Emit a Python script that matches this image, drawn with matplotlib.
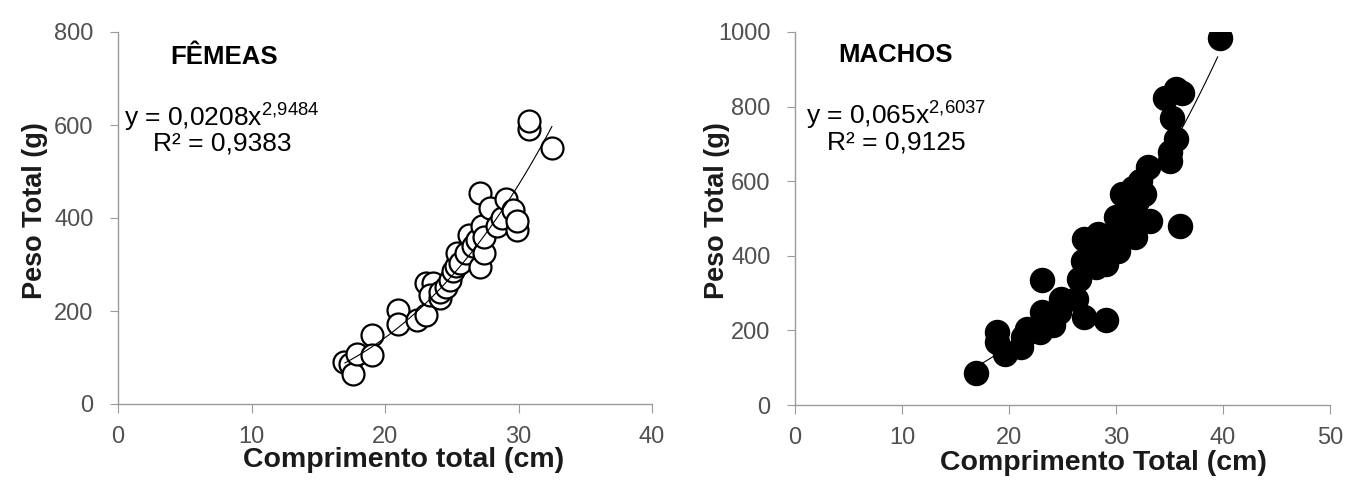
import numpy as np
import matplotlib.pyplot as plt

plt.rcParams['font.family'] = ['Liberation Sans', 'DejaVu Sans']
plt.rcParams['mathtext.fontset'] = 'custom'
plt.rcParams['mathtext.rm'] = 'Liberation Sans'

# Fêmeas: comprimento total (cm) x peso total (g)
femeas_ct = [16.9, 17.4, 17.6, 17.9, 19.0, 19.0, 21.0, 21.0, 22.4, 23.1, 23.1, 23.6,
             23.4, 24.1, 24.1, 24.6, 24.9, 25.1, 25.3, 25.4, 25.6, 26.1, 26.3, 26.6,
             26.9, 27.1, 27.1, 27.3, 27.4, 27.4, 27.9, 28.4, 28.8, 29.1, 29.6, 29.9,
             29.9, 30.8, 30.8, 32.5]
femeas_pt = [90, 86, 65, 108, 148, 105, 202, 173, 180, 191, 260, 260,
             234, 227, 241, 252, 267, 285, 296, 324, 303, 324, 364, 339,
             353, 454, 295, 382, 324, 360, 422, 382, 400, 440, 418, 375,
             393, 591, 609, 551]

# Machos
machos_ct = [16.9, 18.9, 18.9, 19.6, 21.1, 21.3, 21.7, 22.9, 23.1, 23.1, 23.7, 24.1,
             24.7, 24.9, 26.3, 27.0, 26.5, 26.9, 27.0, 27.7, 28.1, 28.3, 28.7, 29.1,
             29.1, 29.4, 30.0, 30.0, 30.2, 30.4, 30.6, 31.0, 31.2, 31.6, 31.8, 32.0,
             32.2, 32.4, 32.6, 33.0, 33.2, 35.0, 35.0, 35.2, 34.6, 35.6, 36.2, 35.6,
             36.0, 39.7]
machos_pt = [85, 196, 169, 138, 156, 183, 205, 196, 249, 334, 227, 214,
             249, 285, 285, 236, 338, 387, 445, 405, 370, 458, 423, 227,
             378, 405, 441, 503, 414, 476, 565, 521, 459, 583, 450, 547,
             601, 494, 565, 637, 494, 654, 677, 770, 824, 846, 837, 712,
             481, 984]

# ajuste potencial
fem_a, fem_b = 0.0208, 2.9484
mac_a, mac_b = 0.065, 2.6037

fig = plt.figure(figsize=(13.7, 4.84), dpi=100)
ax1 = fig.add_axes([118/1370, 1 - 404/484, 534/1370, 372/484])
ax2 = fig.add_axes([795/1370, 1 - 405/484, 535/1370, 373/484])

def estilo(ax, xmax, ymax, ystep, xlabel, xlx, xly, ylx):
    ax.set_xlim(0, xmax)
    ax.set_ylim(0, ymax)
    ax.set_xticks(np.arange(0, xmax + 1, 10))
    ax.set_yticks(np.arange(0, ymax + 1, ystep))
    for s in ['top', 'right']:
        ax.spines[s].set_visible(False)
    for s in ['left', 'bottom']:
        ax.spines[s].set_color('#9a9a9a')
        ax.spines[s].set_linewidth(1.0)
    ax.tick_params(direction='out', color='#9a9a9a', labelsize=17,
                   labelcolor='#505050')
    ax.tick_params(axis='x', length=6.5, pad=9)
    ax.tick_params(axis='y', length=5.5, pad=12)
    ax.set_xlabel(xlabel, fontsize=20.5, fontweight='bold', color='#1a1a1a',
                  va='baseline')
    ax.xaxis.set_label_coords(xlx, xly)
    ax.set_ylabel('Peso Total (g)', fontsize=19.5, fontweight='bold',
                  color='#1a1a1a', va='center')
    ax.yaxis.set_label_coords(ylx, 0.52)

# Fêmeas
xs = np.linspace(17, 32.5, 100)
ax1.scatter(femeas_ct, femeas_pt, s=250, facecolors='white', edgecolors='black',
            linewidths=1.6, zorder=3)
ax1.plot(xs, fem_a * xs ** fem_b, color='black', lw=0.8, zorder=4)
estilo(ax1, 40, 800, 200, 'Comprimento total (cm)', 0.534, -0.169, -0.155)
ax1.text(0.097, 0.915, 'FÊMEAS', transform=ax1.transAxes, fontsize=18.5,
         fontweight='bold', ha='left', va='baseline')
ax1.text(0.195, 0.681, 'y = 0,0208x$^{\\mathregular{2{,}9484}}$\nR² = 0,9383',
         transform=ax1.transAxes, fontsize=19, ha='center', va='baseline',
         multialignment='center', linespacing=0.95)

# Machos
xs = np.linspace(17, 39.5, 100)
ax2.scatter(machos_ct, machos_pt, s=300, color='black', zorder=3)
ax2.plot(xs, mac_a * xs ** mac_b, color='black', lw=0.8, zorder=2)
estilo(ax2, 50, 1000, 200, 'Comprimento Total (cm)', 0.576, -0.174, -0.146)
ax2.text(0.080, 0.920, 'MACHOS', transform=ax2.transAxes, fontsize=18.5,
         fontweight='bold', ha='left', va='baseline')
ax2.text(0.189, 0.685, 'y = 0,065x$^{\\mathregular{2{,}6037}}$\nR² = 0,9125',
         transform=ax2.transAxes, fontsize=19, ha='center', va='baseline',
         multialignment='center', linespacing=0.95)

fig.savefig('out.png', dpi=100, facecolor='white')
